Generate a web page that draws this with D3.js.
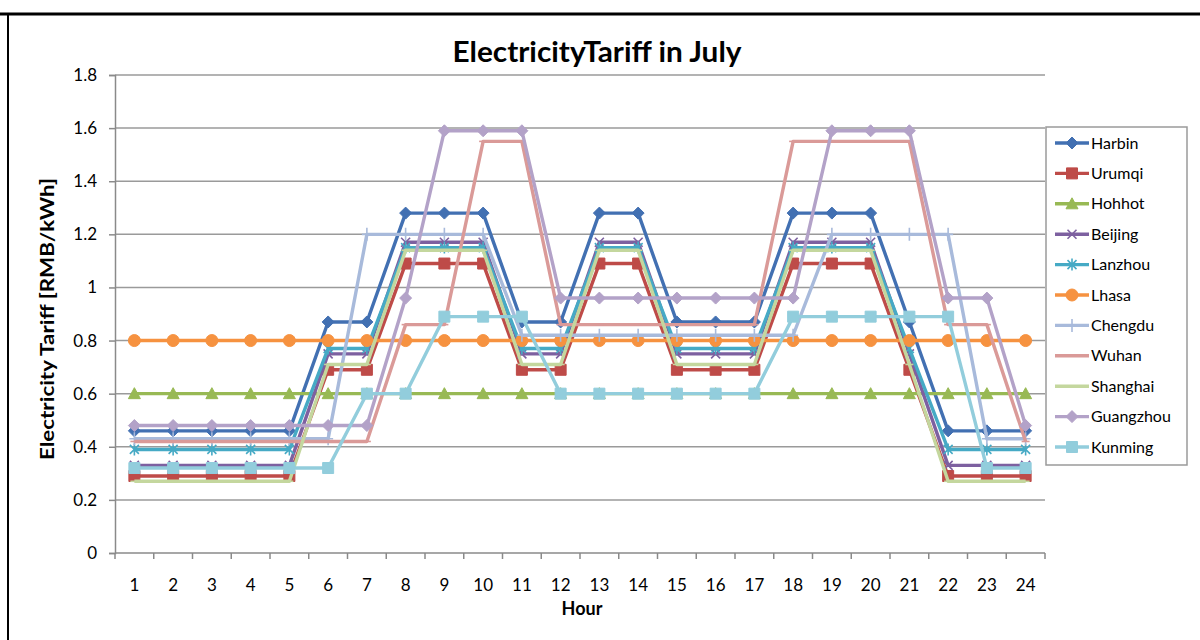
<!DOCTYPE html>
<html><head><meta charset="utf-8">
<script src="https://cdn.jsdelivr.net/npm/d3@7"></script>
<style>
html,body{margin:0;padding:0;background:#fff;}
svg{display:block;}
text{font-family:Lato,"Open Sans",sans-serif;fill:#000;}
</style></head>
<body>
<svg id="chart" width="1200" height="640"></svg>
<script>
// Hour of day (categories)
const hours = [1,2,3,4,5,6,7,8,9,10,11,12,13,14,15,16,17,18,19,20,21,22,23,24];
const hourLabels = ["1","2","3","4","5","6","7","8","9","10","11","12","13","14","15","16","17","18","19","20","21","22","23","24"];

// Tariff per hour, RMB/kWh
const harbin    = [0.46,0.46,0.46,0.46,0.46,0.87,0.87,1.28,1.28,1.28,0.87,0.87,1.28,1.28,0.87,0.87,0.87,1.28,1.28,1.28,0.87,0.46,0.46,0.46];
const urumqi    = [0.29,0.29,0.29,0.29,0.29,0.69,0.69,1.09,1.09,1.09,0.69,0.69,1.09,1.09,0.69,0.69,0.69,1.09,1.09,1.09,0.69,0.29,0.29,0.29];
const hohhot    = [0.60,0.60,0.60,0.60,0.60,0.60,0.60,0.60,0.60,0.60,0.60,0.60,0.60,0.60,0.60,0.60,0.60,0.60,0.60,0.60,0.60,0.60,0.60,0.60];
const beijing   = [0.33,0.33,0.33,0.33,0.33,0.75,0.75,1.17,1.17,1.17,0.75,0.75,1.17,1.17,0.75,0.75,0.75,1.17,1.17,1.17,0.75,0.33,0.33,0.33];
const lanzhou   = [0.39,0.39,0.39,0.39,0.39,0.77,0.77,1.15,1.15,1.15,0.77,0.77,1.15,1.15,0.77,0.77,0.77,1.15,1.15,1.15,0.77,0.39,0.39,0.39];
const lhasa     = [0.80,0.80,0.80,0.80,0.80,0.80,0.80,0.80,0.80,0.80,0.80,0.80,0.80,0.80,0.80,0.80,0.80,0.80,0.80,0.80,0.80,0.80,0.80,0.80];
const chengdu   = [0.43,0.43,0.43,0.43,0.43,0.43,1.20,1.20,1.20,1.20,0.82,0.82,0.82,0.82,0.82,0.82,0.82,0.82,1.20,1.20,1.20,1.20,0.43,0.43];
const wuhan     = [0.42,0.42,0.42,0.42,0.42,0.42,0.42,0.86,0.86,1.55,1.55,0.86,0.86,0.86,0.86,0.86,0.86,1.55,1.55,1.55,1.55,0.86,0.86,0.42];
const shanghai  = [0.27,0.27,0.27,0.27,0.27,0.71,0.71,1.14,1.14,1.14,0.71,0.71,1.14,1.14,0.71,0.71,0.71,1.14,1.14,1.14,0.71,0.27,0.27,0.27];
const guangzhou = [0.48,0.48,0.48,0.48,0.48,0.48,0.48,0.96,1.59,1.59,1.59,0.96,0.96,0.96,0.96,0.96,0.96,0.96,1.59,1.59,1.59,0.96,0.96,0.48];
const kunming   = [0.32,0.32,0.32,0.32,0.32,0.32,0.60,0.60,0.89,0.89,0.89,0.60,0.60,0.60,0.60,0.60,0.60,0.89,0.89,0.89,0.89,0.89,0.32,0.32];

const cityNames = ["Harbin","Urumqi","Hohhot","Beijing","Lanzhou","Lhasa","Chengdu","Wuhan","Shanghai","Guangzhou","Kunming"];
const cityValues = [harbin,urumqi,hohhot,beijing,lanzhou,lhasa,chengdu,wuhan,shanghai,guangzhou,kunming];

// Y axis ticks
const yTicks = [0,0.2,0.4,0.6,0.8,1,1.2,1.4,1.6,1.8];
const yTickLabels = ["0","0.2","0.4","0.6","0.8","1","1.2","1.4","1.6","1.8"];

// Line/marker appearance per series
const colors  = ["#4270B2","#BE4B48","#98B954","#7D60A0","#46AAC5","#F69240","#A8BADB","#DA9A98","#C4D79E","#B3A2C8","#92CDDC"];
const markers = ["diamond","square","triangle","x","star","circle","plus","dash","dash","diamond","square"];

const svg = d3.select("#chart");
const W = 1200, H = 640;

const plot = {left:115, right:1045, top:75, bottom:553};

const x = d3.scaleBand().domain(hours).range([plot.left, plot.right]).padding(0);
const cx = h => x(h) + x.bandwidth()/2;
const y = d3.scaleLinear().domain([0,1.8]).range([plot.bottom, plot.top]);

// outer frame
svg.append("line").attr("x1",0).attr("x2",W).attr("y1",14).attr("y2",14).attr("stroke","#000").attr("stroke-width",3);
svg.append("line").attr("x1",8).attr("x2",8).attr("y1",14).attr("y2",H).attr("stroke","#000").attr("stroke-width",2);

// gridlines
svg.append("g").selectAll("line").data(yTicks.filter(v => v > 0)).join("line")
  .attr("x1", plot.left).attr("x2", plot.right)
  .attr("y1", d => y(d)).attr("y2", d => y(d))
  .attr("stroke","#9a9a9a").attr("stroke-width",1.5);

// y axis
const yAxis = d3.axisLeft(y).tickValues(yTicks).tickSize(6).tickPadding(12)
  .tickFormat((d,i) => yTickLabels[i]);
const gy = svg.append("g").attr("transform",`translate(${plot.left},0)`).call(yAxis);
gy.select(".domain").attr("stroke","#8a8a8a").attr("stroke-width",1.5);
gy.selectAll(".tick line").attr("stroke","#8a8a8a").attr("stroke-width",1.5);
gy.selectAll(".tick text").style("font-size","17px").style("font-family","Lato, sans-serif").attr("fill","#000");

// x axis: labels centred in categories, ticks on category boundaries
const xAxis = d3.axisBottom(x).tickSize(0).tickPadding(26).tickFormat((d,i) => hourLabels[i]);
const gx = svg.append("g").attr("transform",`translate(0,${plot.bottom})`).call(xAxis);
gx.select(".domain").remove();
gx.selectAll(".tick text").style("font-size","17px").style("font-family","Lato, sans-serif").attr("fill","#000");
svg.append("line").attr("x1",plot.left).attr("x2",plot.right).attr("y1",plot.bottom).attr("y2",plot.bottom)
  .attr("stroke","#8a8a8a").attr("stroke-width",1.5);
svg.append("g").selectAll("line").data(hours.concat([null])).join("line")
  .attr("x1", (d,i) => plot.left + i*x.bandwidth()).attr("x2", (d,i) => plot.left + i*x.bandwidth())
  .attr("y1", plot.bottom).attr("y2", plot.bottom + 6)
  .attr("stroke","#8a8a8a").attr("stroke-width",1.5);

// marker shapes
function markerPath(type){
  switch(type){
    case "diamond": return "M0,-6L6,0L0,6L-6,0Z";
    case "square": return "M-5.5,-5.5H5.5V5.5H-5.5Z";
    case "triangle": return "M0,-6L6,5H-6Z";
    case "circle": return "M6,0A6,6 0 1,1 -6,0A6,6 0 1,1 6,0Z";
    case "x": return "M-4.5,-4.5L4.5,4.5M4.5,-4.5L-4.5,4.5";
    case "star": return "M-4.5,-4.5L4.5,4.5M4.5,-4.5L-4.5,4.5M0,-6V6";
    case "plus": return "M-5,0H5M0,-6.5V6.5";
    case "dash": return "M-4,0H4";
  }
}
const strokeMarkers = new Set(["x","star","plus","dash"]);

const line = d3.line().x((d,i) => cx(hours[i])).y(d => y(d));

const series = svg.append("g");
cityValues.forEach((vals, k) => {
  const g = series.append("g");
  g.append("path").datum(vals).attr("d", line)
    .attr("fill","none").attr("stroke", colors[k]).attr("stroke-width",3.4)
    .attr("stroke-linejoin","round");
  const m = markers[k];
  g.selectAll("path.m").data(vals).join("path").attr("class","m")
    .attr("transform",(d,i) => `translate(${cx(hours[i])},${y(d)})`)
    .attr("d", markerPath(m))
    .attr("fill", strokeMarkers.has(m) ? "none" : colors[k])
    .attr("stroke", colors[k])
    .attr("stroke-width", strokeMarkers.has(m) ? 1.6 : 1);
});

// title
svg.append("text").attr("x",597).attr("y",62).attr("text-anchor","middle")
  .attr("textLength",289).attr("lengthAdjust","spacingAndGlyphs")
  .style("font-size","28px").style("font-weight","bold").text("ElectricityTariff in July");

// axis titles
svg.append("text").attr("transform","translate(54,319) rotate(-90)").attr("text-anchor","middle")
  .attr("textLength",282).attr("lengthAdjust","spacingAndGlyphs")
  .style("font-size","18px").style("font-weight","bold").text("Electricity Tariff  [RMB/kWh]");
svg.append("text").attr("x",582).attr("y",615).attr("text-anchor","middle")
  .style("font-size","18px").style("font-weight","bold").text("Hour");

// legend
const lg = svg.append("g");
const lgTop = 127, lgStep = 30.4;
lg.append("rect").attr("x",1046).attr("y",lgTop).attr("width",141).attr("height",338)
  .attr("fill","#fff").attr("stroke","#9a9a9a").attr("stroke-width",1.5);
cityNames.forEach((name,k) => {
  const yy = lgTop + 16 + k*lgStep;
  lg.append("line").attr("x1",1055).attr("x2",1089).attr("y1",yy).attr("y2",yy)
    .attr("stroke",colors[k]).attr("stroke-width",3.4);
  const m = markers[k];
  lg.append("path").attr("transform",`translate(1072,${yy})`).attr("d",markerPath(m))
    .attr("fill", strokeMarkers.has(m) ? "none" : colors[k]).attr("stroke",colors[k])
    .attr("stroke-width", strokeMarkers.has(m) ? 1.6 : 1);
  lg.append("text").attr("x",1091).attr("y",yy+5.5).style("font-size","16px").text(name);
});
</script>
</body></html>
